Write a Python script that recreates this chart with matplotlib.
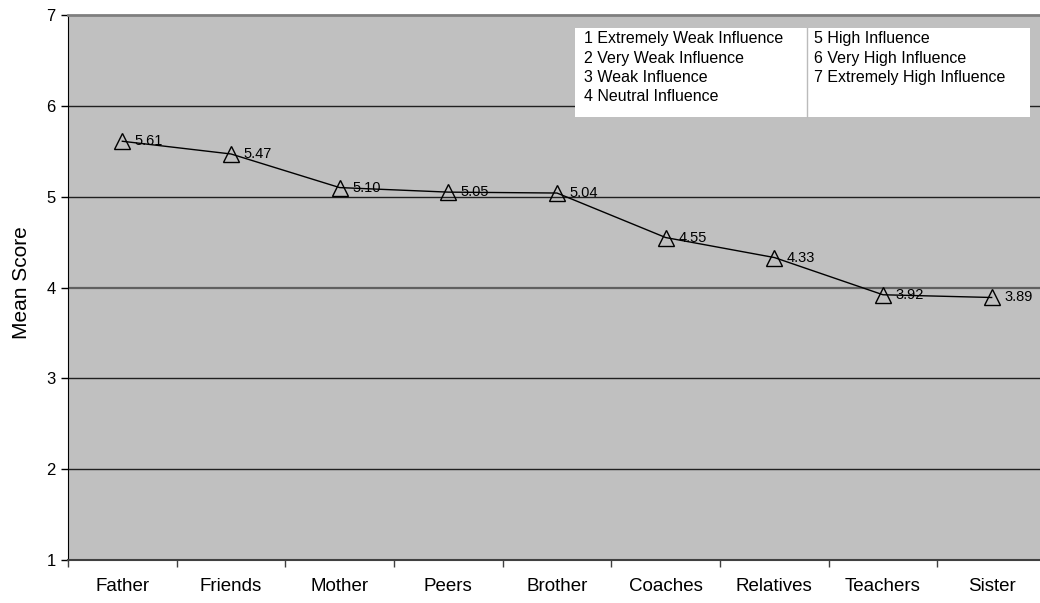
import numpy as np
import matplotlib
matplotlib.use('Agg')
import matplotlib.pyplot as plt
from matplotlib.patches import Rectangle

plt.rcParams['font.family'] = ['Liberation Sans', 'DejaVu Sans']

# Mean influence score per source
sources = ['Father', 'Friends', 'Mother', 'Peers', 'Brother',
           'Coaches', 'Relatives', 'Teachers', 'Sister']
mean_scores = [5.61, 5.47, 5.10, 5.05, 5.04, 4.55, 4.33, 3.92, 3.89]

scale_left = ['1 Extremely Weak Influence', '2 Very Weak Influence',
              '3 Weak Influence', '4 Neutral Influence']
scale_right = ['5 High Influence', '6 Very High Influence',
               '7 Extremely High Influence']

W, H = 1040, 603
fig = plt.figure(figsize=(W / 100, H / 100), dpi=100)
# right edge of the plot runs slightly past the figure
ax = fig.add_axes([68 / W, 1 - 560 / H, (1046 - 68) / W, (560 - 15) / H])
ax.set_facecolor('#c0c0c0')

x = np.arange(len(sources))
ax.plot(x, mean_scores, color='black', lw=1, marker='^', markersize=12,
        markerfacecolor='none', markeredgecolor='black', markeredgewidth=1,
        zorder=3)
for xi, v in zip(x, mean_scores):
    ax.annotate(f'{v:.2f}', (xi, v), xytext=(9, 0), textcoords='offset points',
                ha='left', va='center', fontsize=10.5, zorder=4)

ax.set_xlim(-0.5, len(sources) - 0.5)
ax.set_ylim(1, 7)
ax.set_yticks(range(1, 8))
for yv in range(2, 7):
    if yv == 4:
        ax.axhline(yv, color='#606060', lw=1.6, zorder=1)
    else:
        ax.axhline(yv, color='#202020', lw=1, zorder=1)

ax.set_xticks(x)
ax.set_xticklabels(sources, fontsize=13.5)
ax.set_xticks(np.arange(-0.5, len(sources) - 0.4, 1), minor=True)
ax.tick_params(axis='x', which='major', length=0, pad=13)
ax.tick_params(axis='x', which='minor', length=5, width=1, color='#404040')
ax.tick_params(axis='y', length=5, width=1, labelsize=12, pad=4)
ax.set_ylabel('Mean Score', fontsize=15)
ax.yaxis.set_label_coords(-(68 - 31) / (1046 - 68), (560 - 283) / (560 - 15))

ax.spines['right'].set_visible(False)
ax.spines['top'].set_color('#7f7f7f')
ax.spines['top'].set_linewidth(2)
ax.spines['bottom'].set_color('#404040')
ax.spines['bottom'].set_linewidth(1.5)
ax.spines['left'].set_color('black')

# scale key box
def fx(px):
    return px / W

def fy(py):
    return 1 - py / H

fig.patches.append(Rectangle((fx(575), fy(117)), fx(1030) - fx(575), fy(28) - fy(117),
                             transform=fig.transFigure, facecolor='white',
                             edgecolor='none', zorder=5))
fig.add_artist(plt.Line2D([fx(807), fx(807)], [fy(117), fy(28)],
                          color='#bbbbbb', lw=1, zorder=6))
for i, t in enumerate(scale_left):
    fig.text(fx(584), fy(39 + 19.2 * i), t, fontsize=11.5, va='center', ha='left', zorder=7)
for i, t in enumerate(scale_right):
    fig.text(fx(814), fy(39 + 19.2 * i), t, fontsize=11.5, va='center', ha='left', zorder=7)

fig.savefig('out.png', dpi=100)
